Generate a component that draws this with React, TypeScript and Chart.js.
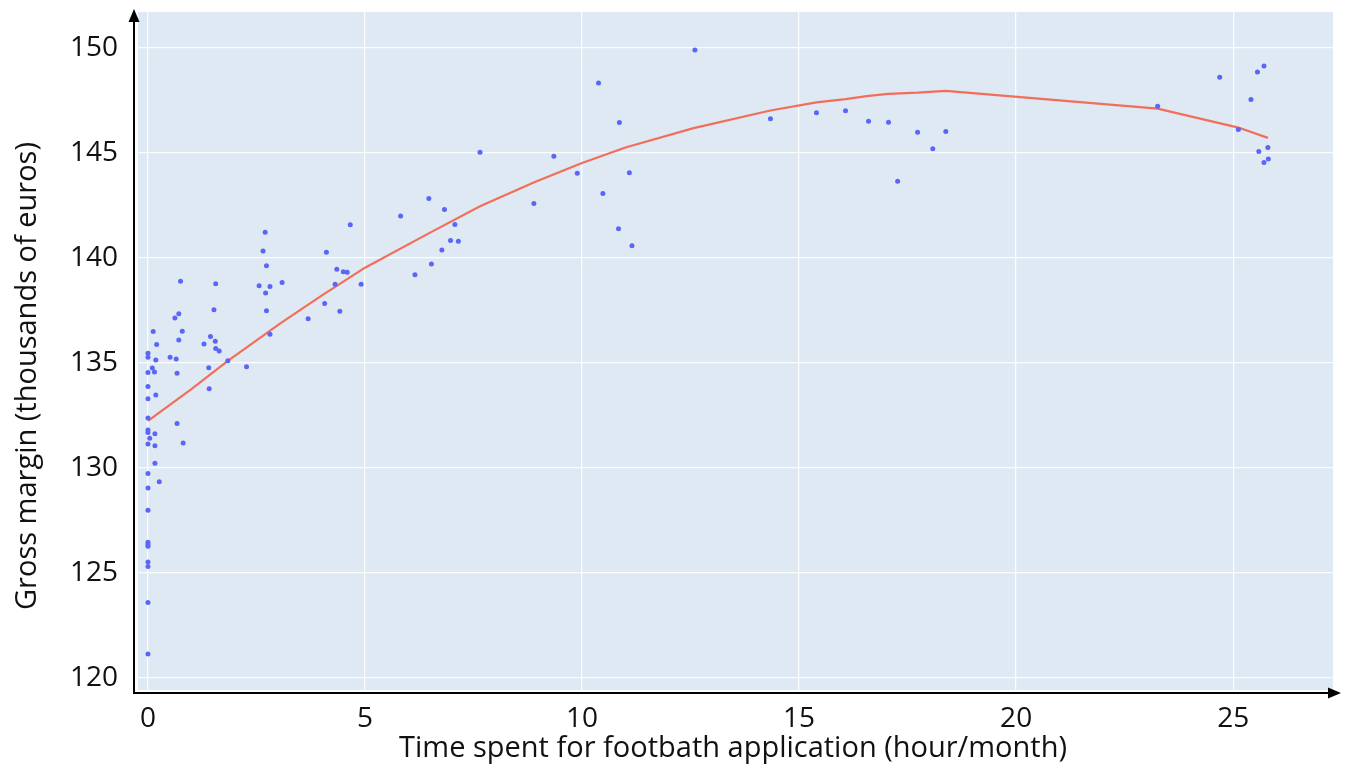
import React, { useEffect, useRef } from "react";
import { Chart, registerables } from "chart.js";

Chart.register(...registerables);

// Observed farms: time spent on footbath application (hour/month) vs gross margin (k€)
const timeHours = [
  0.0, 0.0, 0.0, 0.0, 0.0, 0.0, 0.0, 0.0, 0.0, 0.0,
  0.26, 0.16, 0.0, 0.16, 0.81, 0.04, 0.16, 0.0, 0.0, 0.67,
  0.0, 0.0, 0.18, 1.41, 0.0, 0.0, 0.15, 0.67, 0.10, 1.40,
  1.84, 0.18, 0.65, 0.51, 0.0, 0.0, 1.64, 1.56, 0.20, 1.29,
  1.55, 0.71, 1.44, 0.12, 0.79, 0.62, 0.71, 1.52, 1.56, 0.75,
  2.27, 2.81, 3.69, 4.42, 2.73, 4.07, 2.71, 2.56, 2.81, 3.09,
  4.31, 4.91, 6.15, 4.50, 4.59, 4.35, 2.73, 6.53, 4.11, 2.65,
  6.77, 6.97, 7.15, 2.70, 7.07, 4.66, 5.82, 6.83, 6.47, 8.89,
  7.65, 9.35, 9.89, 10.48, 10.84, 11.15, 11.09, 10.86, 10.38, 12.60,
  14.34, 15.40, 16.07, 16.60, 17.06, 17.73, 18.38, 18.08, 17.27,
  23.26, 24.69, 25.71, 25.56, 25.41, 25.12, 25.80, 25.59, 25.81, 25.71,
];

const grossMargin = [
  121.14, 123.6, 125.31, 125.52, 126.27, 126.35, 126.46, 127.98, 129.04, 129.73,
  129.34, 130.22, 131.14, 131.05, 131.19, 131.41, 131.63, 131.68, 131.81, 132.11,
  132.38, 133.29, 133.47, 133.77, 133.88, 134.54, 134.56, 134.51, 134.75, 134.77,
  135.1, 135.14, 135.19, 135.27, 135.27, 135.46, 135.56, 135.68, 135.87, 135.9,
  136.03, 136.09, 136.25, 136.49, 136.51, 137.14, 137.34, 137.53, 138.77, 138.89,
  134.81, 136.36, 137.1, 137.46, 137.48, 137.82, 138.32, 138.67, 138.64, 138.83,
  138.74, 138.74, 139.19, 139.34, 139.31, 139.46, 139.62, 139.7, 140.27, 140.33,
  140.37, 140.83, 140.79, 141.22, 141.59, 141.57, 141.99, 142.3, 142.82, 142.58,
  145.02, 144.84, 144.03, 143.06, 141.38, 140.57, 144.05, 146.44, 148.32, 149.89,
  146.62, 146.9, 147.0, 146.5, 146.45, 145.98, 146.01, 145.19, 143.65,
  147.21, 148.59, 149.13, 148.85, 147.53, 146.11, 145.25, 145.06, 144.7, 144.54,
];

// Fitted trend curve
const trendX = [0, 1, 1.84, 3.04, 4, 5, 6.5, 7.65, 8.9, 10, 11, 12.57, 14.34, 15.4, 16.07, 16.6, 17.06, 17.73, 18.38, 23.26, 25.12, 25.8];
const trendY = [132.24, 133.75, 135.1, 136.87, 138.2, 139.53, 141.2, 142.45, 143.6, 144.51, 145.25, 146.17, 147.01, 147.4, 147.55, 147.71, 147.8, 147.86, 147.95, 147.1, 146.2, 145.71];

const xTickValues = [0, 5, 10, 15, 20, 25];
const yTickValues = [120, 125, 130, 135, 140, 145, 150];

const xTitle = "Time spent for footbath application (hour/month)";
const yTitle = "Gross margin (thousands of euros)";

const FONT = "'Open Sans', 'Noto Sans', sans-serif";

export default function App() {
  const canvasRef = useRef<HTMLCanvasElement | null>(null);

  useEffect(() => {
    const canvas = canvasRef.current;
    if (!canvas) return;

    const decorPlugin = {
      id: "decor",
      beforeDraw(chart: any) {
        const { ctx, chartArea } = chart;
        ctx.save();
        ctx.fillStyle = "#dee9f4";
        ctx.fillRect(chartArea.left, chartArea.top, chartArea.right - chartArea.left, chartArea.bottom - chartArea.top);
        ctx.restore();
      },
      afterDraw(chart: any) {
        const { ctx } = chart;
        ctx.save();
        // axis lines
        ctx.strokeStyle = "#000";
        ctx.fillStyle = "#000";
        ctx.lineWidth = 2;
        ctx.beginPath();
        ctx.moveTo(134, 694);
        ctx.lineTo(134, 20);
        ctx.moveTo(133, 693);
        ctx.lineTo(1330, 693);
        ctx.stroke();
        // arrow heads
        ctx.beginPath();
        ctx.moveTo(134, 9);
        ctx.lineTo(139.5, 22);
        ctx.lineTo(128.5, 22);
        ctx.closePath();
        ctx.fill();
        ctx.beginPath();
        ctx.moveTo(1341, 693);
        ctx.lineTo(1328, 687.5);
        ctx.lineTo(1328, 698.5);
        ctx.closePath();
        ctx.fill();
        // titles
        ctx.fillStyle = "#111";
        ctx.font = `29px ${FONT}`;
        ctx.textAlign = "center";
        ctx.textBaseline = "alphabetic";
        ctx.fillText(xTitle, 733, 757);
        ctx.translate(36, 376);
        ctx.rotate(-Math.PI / 2);
        ctx.fillText(yTitle, 0, 0);
        ctx.restore();
      },
    };

    const chart = new Chart(canvas, {
      type: "scatter",
      data: {
        datasets: [
          {
            type: "line",
            label: "Trend",
            data: trendX.map((x, i) => ({ x, y: trendY[i] })),
            borderColor: "#f26e5b",
            borderWidth: 2.2,
            pointRadius: 0,
            fill: false,
            tension: 0,
            order: 2,
          },
          {
            type: "scatter",
            label: "Farms",
            data: timeHours.map((x, i) => ({ x, y: grossMargin[i] })),
            backgroundColor: "#5b66f6",
            borderWidth: 0,
            pointRadius: 2.5,
            order: 1,
          },
        ],
      },
      options: {
        responsive: false,
        animation: false,
        devicePixelRatio: 1,
        layout: { padding: { top: 12, right: 20, left: 0, bottom: 0 } },
        plugins: {
          legend: { display: false },
          tooltip: { enabled: false },
          title: { display: false },
        },
        scales: {
          x: {
            type: "linear",
            min: -0.23,
            max: 27.3,
            afterBuildTicks: (scale: any) => {
              scale.ticks = xTickValues.map((v) => ({ value: v }));
            },
            afterFit: (scale: any) => {
              scale.height = 93;
              scale.paddingLeft = 0;
              scale.paddingRight = 0;
            },
            grid: { color: "rgba(255,255,255,0.85)", lineWidth: 1.3, drawTicks: false },
            border: { display: false },
            ticks: {
              padding: 12,
              color: "#111",
              font: { family: FONT, size: 28 },
              maxRotation: 0,
            },
          },
          y: {
            type: "linear",
            min: 119.43,
            max: 151.7,
            afterBuildTicks: (scale: any) => {
              scale.ticks = yTickValues.map((v) => ({ value: v }));
            },
            afterFit: (scale: any) => {
              scale.width = 138;
              scale.paddingTop = 0;
              scale.paddingBottom = 0;
            },
            grid: { color: "rgba(255,255,255,0.85)", lineWidth: 1.3, drawTicks: false },
            border: { display: false },
            ticks: {
              padding: 20,
              color: "#111",
              font: { family: FONT, size: 28 },
            },
          },
        },
      },
      plugins: [decorPlugin],
    });

    return () => {
      chart.destroy();
    };
  }, []);

  return (
    <div style={{ position: "absolute", left: 0, top: 0, width: 1353, height: 783, background: "#fff" }}>
      <canvas ref={canvasRef} width={1353} height={783} style={{ width: 1353, height: 783, display: "block" }} />
    </div>
  );
}
